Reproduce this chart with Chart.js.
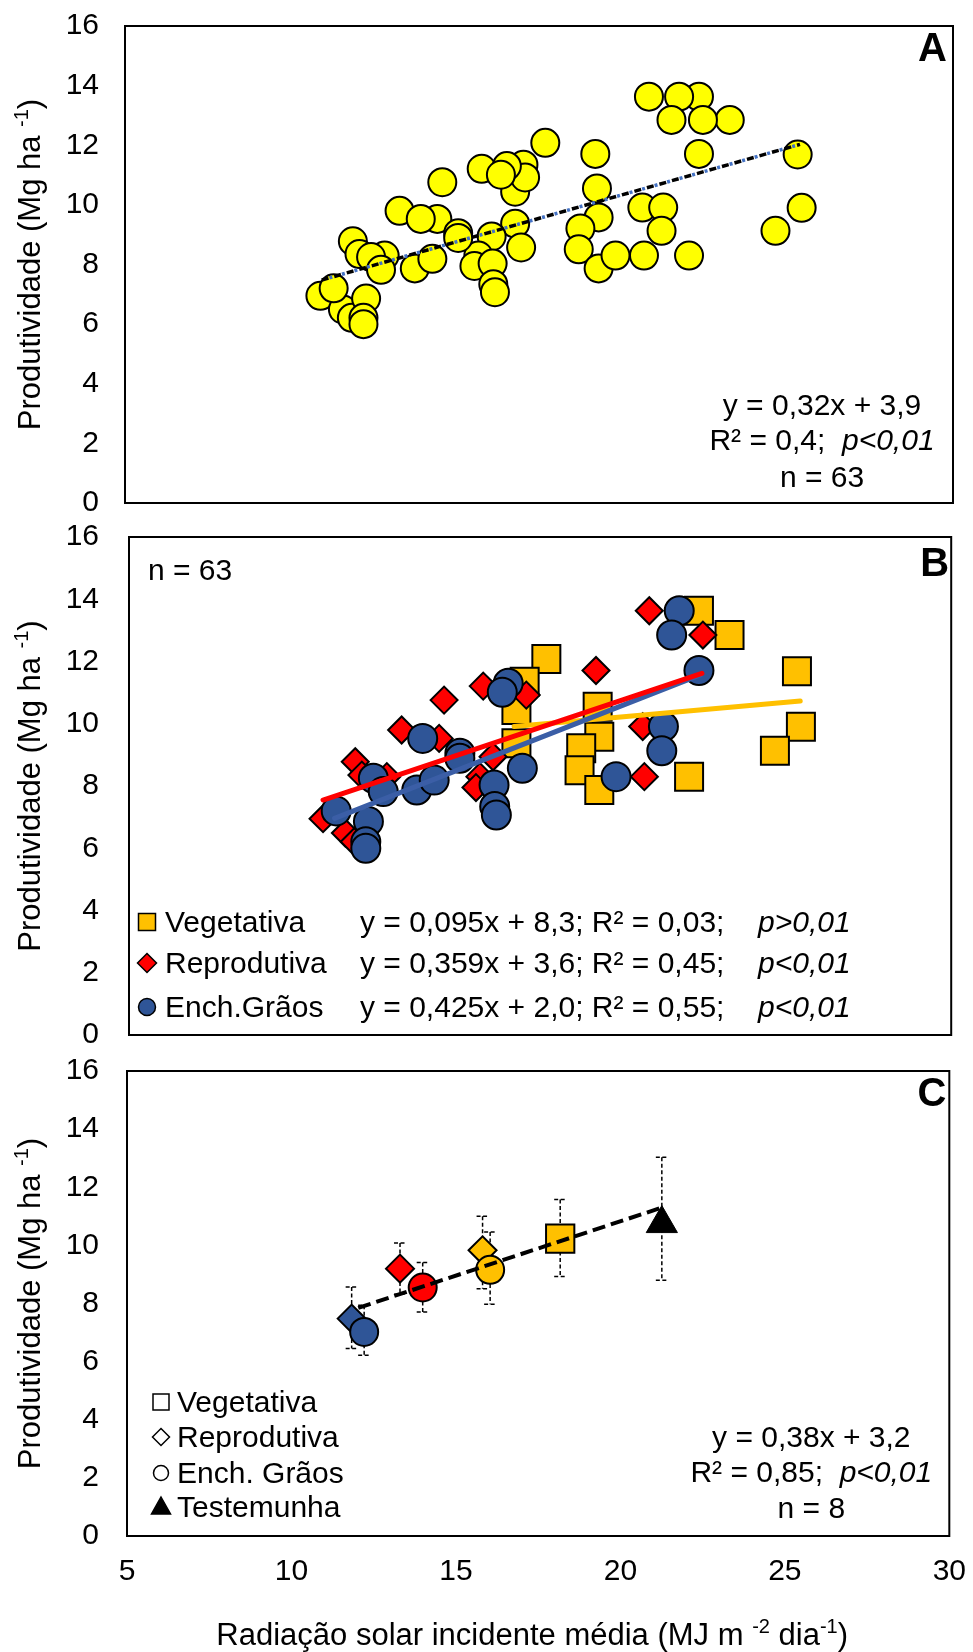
<!DOCTYPE html>
<html>
<head>
<meta charset="utf-8">
<title>Produtividade x Radiação solar</title>
<script src="https://cdn.jsdelivr.net/npm/chart.js@4.4.0/dist/chart.umd.min.js"></script>
<style>
  body { margin: 0; background: #fff; }
  #wrap { position: relative; width: 973px; height: 1652px; overflow: hidden; }
  canvas { position: absolute; left: 0; }
</style>
</head>
<body>
<div id="wrap">
  <!-- canvases overlap a little: the y tick padding also pads the plot top/bottom -->
  <canvas id="chartA" width="973" height="565" style="top:-18px"></canvas>
  <canvas id="chartB" width="973" height="594" style="top:489px"></canvas>
  <canvas id="chartC" width="984" height="627" style="top:1025px"></canvas>
</div>
<script>
/* axis ticks */
const xTicks = [5, 10, 15, 20, 25, 30];
const yTicks = [0, 2, 4, 6, 8, 10, 12, 14, 16];

/* panel B points, by phase (panel A shows them all together) */
const vegX = [22.33, 23.26, 25.31, 25.43, 24.64, 22.03, 19.25, 19.30, 18.75, 18.70, 19.30, 17.69, 17.03, 16.78, 16.78];
const vegY = [13.63, 12.85, 11.69, 9.90, 9.13, 8.30, 10.55, 9.58, 9.21, 8.51, 7.87, 12.08, 11.35, 10.44, 9.37];
const repX = [20.82, 22.45, 19.20, 20.62, 20.67, 14.58, 15.77, 17.08, 13.29, 14.43, 11.88, 12.08, 12.84, 10.90, 11.58, 11.85, 16.07, 15.67, 15.55];
const repY = [13.63, 12.85, 11.71, 9.91, 8.30, 10.76, 11.21, 10.92, 9.80, 9.53, 8.78, 8.35, 8.30, 6.95, 6.49, 6.21, 8.94, 8.30, 7.95];
const enchX = [21.73, 21.50, 22.33, 21.25, 21.20, 19.81, 16.53, 16.35, 13.93, 15.06, 15.06, 12.43, 12.73, 13.75, 14.28, 16.10, 16.12, 16.17, 16.96, 11.30, 12.28, 12.20, 12.20];
const enchY = [13.63, 12.85, 11.71, 9.91, 9.13, 8.30, 11.30, 11.01, 9.53, 9.05, 8.89, 8.25, 7.82, 7.87, 8.19, 8.03, 7.34, 7.07, 8.57, 7.20, 6.86, 6.21, 6.00];

/* trend lines (end points) */
const trendAX = [10.94, 25.38];
const trendAY = [7.48, 12.03];
const trendVegX = [16.71, 25.41];
const trendVegY = [9.91, 10.73];
const trendRepX = [10.90, 22.42];
const trendRepY = [7.55, 11.62];
const trendEnchX = [11.25, 22.37];
const trendEnchY = [6.96, 11.57];

/* panel C means with error bars */
const vegCX = [18.17];
const vegCY = [10.23];
const vegCLo = [8.93];
const vegCHi = [11.58];
const repCX = [11.83, 13.30, 15.81];
const repCY = [7.48, 9.20, 9.83];
const repCLo = [6.45, 8.32, 8.51];
const repCHi = [8.57, 10.08, 11.00];
const enchCX = [12.21, 13.99, 16.04];
const enchCY = [7.02, 8.55, 9.16];
const enchCLo = [6.22, 7.71, 7.97];
const enchCHi = [7.94, 9.41, 10.46];
const testCX = [21.26];
const testCY = [10.75];
const testCLo = [8.80];
const testCHi = [13.03];
const trendCX = [12.03, 21.26];
const trendCY = [7.85, 11.30];

const FONT = "'Liberation Sans', Arial, sans-serif";
const GOLD = '#FFC000';
const RED = '#FF0000';
const BLUE = '#2F5597';

Chart.defaults.font.family = FONT;
Chart.defaults.color = '#000';

const toPoints = (xs, ys) => xs.map((x, i) => ({ x: x, y: ys[i] }));

// text with italic / superscript pieces: [[text, style], ...]
function richText(ctx, segs, x, y, size, align) {
  const fontOf = (s) => (s === 'i' ? 'italic ' : '') + (s === 'sup' ? Math.round(size * 0.65) : size) + 'px ' + FONT;
  let total = 0;
  segs.forEach(([t, s]) => { ctx.font = fontOf(s); total += ctx.measureText(t).width; });
  let cx = x;
  if (align === 'center') cx = x - total / 2;
  if (align === 'right') cx = x - total;
  ctx.textAlign = 'left';
  ctx.textBaseline = 'alphabetic';
  ctx.fillStyle = '#000';
  segs.forEach(([t, s]) => {
    ctx.font = fontOf(s);
    ctx.fillText(t, cx, s === 'sup' ? y - size * 0.38 : y);
    cx += ctx.measureText(t).width;
  });
}

// small legend marker
function marker(ctx, shape, x, y, r, fill) {
  ctx.save();
  ctx.fillStyle = fill;
  ctx.strokeStyle = '#000';
  ctx.lineWidth = 1.5;
  ctx.beginPath();
  if (shape === 'rect') ctx.rect(x - r, y - r, 2 * r, 2 * r);
  if (shape === 'rectRot') { ctx.moveTo(x, y - r); ctx.lineTo(x + r, y); ctx.lineTo(x, y + r); ctx.lineTo(x - r, y); ctx.closePath(); }
  if (shape === 'circle') ctx.arc(x, y, r, 0, Math.PI * 2);
  if (shape === 'triangle') { ctx.moveTo(x, y - r); ctx.lineTo(x + r * 0.95, y + r * 0.7); ctx.lineTo(x - r * 0.95, y + r * 0.7); ctx.closePath(); }
  ctx.fill();
  ctx.stroke();
  ctx.restore();
}

const yTitle = [['Produtividade (Mg ha ', ''], ['-1', 'sup'], [')', '']];
const xTitle = [['Radiação solar incidente média (MJ m ', ''], ['-2', 'sup'], [' dia', ''], ['-1', 'sup'], [')', '']];

// frame, panel letter, y title and the extra texts of each panel
function makeDecor(letter, letterDx, letterDy, extra) {
  return {
    id: 'decor' + letter,
    afterDraw(chart) {
      const ctx = chart.ctx;
      const a = chart.chartArea;
      ctx.save();
      ctx.strokeStyle = '#000';
      ctx.lineWidth = 2;
      ctx.strokeRect(a.left, a.top, a.right - a.left, a.bottom - a.top);
      ctx.font = 'bold 40px ' + FONT;
      ctx.fillStyle = '#000';
      ctx.textAlign = 'right';
      ctx.textBaseline = 'alphabetic';
      ctx.fillText(letter, a.right - letterDx, a.top + letterDy);
      ctx.save();
      ctx.translate(40, (a.top + a.bottom) / 2);
      ctx.rotate(-Math.PI / 2);
      richText(ctx, yTitle, 0, 0, 31, 'center');
      ctx.restore();
      extra(ctx, a, chart);
      ctx.restore();
    }
  };
}

// dashed error bars of panel C, drawn under the markers
const errorBars = {
  id: 'errorBars',
  beforeDatasetsDraw(chart) {
    const ctx = chart.ctx;
    const xs = chart.scales.x;
    const ys = chart.scales.y;
    ctx.save();
    ctx.strokeStyle = '#000';
    ctx.lineWidth = 1.5;
    ctx.setLineDash([4, 2.5]);
    chart.data.datasets.forEach((ds) => {
      if (!ds.errLo) return;
      ds.data.forEach((p, i) => {
        const px = xs.getPixelForValue(p.x);
        const lo = ys.getPixelForValue(ds.errLo[i]);
        const hi = ys.getPixelForValue(ds.errHi[i]);
        ctx.beginPath();
        ctx.moveTo(px, hi); ctx.lineTo(px, lo);
        ctx.moveTo(px - 6, hi); ctx.lineTo(px + 6, hi);
        ctx.moveTo(px - 6, lo); ctx.lineTo(px + 6, lo);
        ctx.stroke();
      });
    });
    ctx.restore();
  }
};

function yScale(width) {
  return {
    min: 0, max: 16,
    afterBuildTicks: (s) => { s.ticks = yTicks.map((v) => ({ value: v })); },
    afterFit: (s) => { s.width = width; },
    ticks: { font: { size: 30 }, padding: width - 99, color: '#000' },
    grid: { display: false, drawTicks: false },
    border: { display: false }
  };
}

function xScale(show) {
  return {
    type: 'linear', min: 5, max: 30, display: show,
    afterBuildTicks: (s) => { s.ticks = xTicks.map((v) => ({ value: v })); },
    afterFit: (s) => { s.height = show ? 116 : 0; },
    ticks: { font: { size: 30 }, padding: 18, color: '#000' },
    grid: { display: false, drawTicks: false },
    border: { display: false }
  };
}

const baseOptions = (padding, yWidth, showX) => ({
  responsive: false,
  animation: false,
  events: [],
  layout: { padding: padding },
  plugins: { legend: { display: false }, tooltip: { enabled: false } },
  scales: { x: xScale(showX), y: yScale(yWidth) }
});

const trendLine = (xs, ys, color, width, dash, order) => ({
  data: toPoints(xs, ys),
  showLine: true,
  borderColor: color,
  borderWidth: width,
  borderDash: dash,
  borderCapStyle: dash.length ? 'butt' : 'round',
  pointRadius: 0,
  fill: false,
  order: order
});

/* ---------- panel A ---------- */
const chartA = new Chart(document.querySelector('#chartA').getContext('2d'), {
  type: 'scatter',
  data: {
    datasets: [
      trendLine(trendAX, trendAY, '#000', 3.5, [7, 6], 1),
      Object.assign(trendLine(trendAX, trendAY, '#4472C4', 3.5, [3, 10], 0), { borderDashOffset: -8 }),
      {
        data: toPoints(vegX.concat(repX, enchX), vegY.concat(repY, enchY)),
        pointStyle: 'circle',
        pointRadius: 14,
        backgroundColor: '#FFFF00',
        borderColor: '#000',
        borderWidth: 2,
        order: 5
      }
    ]
  },
  options: baseOptions({ top: 0, right: 20, bottom: 0, left: 0 }, 125, false),
  plugins: [makeDecor('A', 6, 35, (ctx, a) => {
    const cx = a.right - 131;
    richText(ctx, [['y = 0,32x + 3,9', '']], cx, a.bottom - 88, 30, 'center');
    richText(ctx, [['R² = 0,4;  ', ''], ['p<0,01', 'i']], cx, a.bottom - 53, 30, 'center');
    richText(ctx, [['n = 63', '']], cx, a.bottom - 16, 30, 'center');
  })]
});

/* ---------- panel B ---------- */
const legendB = [
  ['rect', 8.5, GOLD, 'Vegetativa', 'y = 0,095x + 8,3; R² = 0,03;', 'p>0,01'],
  ['rectRot', 9.5, RED, 'Reprodutiva', 'y = 0,359x + 3,6; R² = 0,45;', 'p<0,01'],
  ['circle', 8.5, BLUE, 'Ench.Grãos', 'y = 0,425x + 2,0; R² = 0,55;', 'p<0,01']
];

const chartB = new Chart(document.querySelector('#chartB').getContext('2d'), {
  type: 'scatter',
  data: {
    datasets: [
      trendLine(trendRepX, trendRepY, RED, 5, [], 0),
      trendLine(trendEnchX, trendEnchY, '#3B5EA6', 5, [], 1),
      trendLine(trendVegX, trendVegY, GOLD, 5, [], 2),
      { data: toPoints(enchX, enchY), pointStyle: 'circle', pointRadius: 14.5, backgroundColor: BLUE, borderColor: '#000', borderWidth: 2, order: 3 },
      { data: toPoints(repX, repY), pointStyle: 'rectRot', pointRadius: 13.5, backgroundColor: RED, borderColor: '#000', borderWidth: 2, order: 4 },
      { data: toPoints(vegX, vegY), pointStyle: 'rect', pointRadius: 19.8, backgroundColor: GOLD, borderColor: '#000', borderWidth: 2, order: 5 }
    ]
  },
  options: baseOptions({ top: 0, right: 20, bottom: 0, left: 0 }, 129, false),
  plugins: [makeDecor('B', 2, 39, (ctx, a) => {
    richText(ctx, [['n = 63', '']], a.left + 19, a.top + 43, 30, 'left');
    const bases = [a.bottom - 103, a.bottom - 62, a.bottom - 18];
    legendB.forEach((row, i) => {
      marker(ctx, row[0], a.left + 18, bases[i] - 10, row[1], row[2]);
      richText(ctx, [[row[3], '']], a.left + 36, bases[i], 30, 'left');
      richText(ctx, [[row[4], '']], a.left + 231, bases[i], 30, 'left');
      richText(ctx, [[row[5], 'i']], a.left + 629, bases[i], 30, 'left');
    });
  })]
});

/* ---------- panel C ---------- */
const legendC = [
  ['rect', 8, '#fff', 'Vegetativa'],
  ['rectRot', 8.5, '#fff', 'Reprodutiva'],
  ['circle', 7.5, '#fff', 'Ench. Grãos'],
  ['triangle', 10, '#000', 'Testemunha']
];

const chartC = new Chart(document.querySelector('#chartC').getContext('2d'), {
  type: 'scatter',
  data: {
    datasets: [
      trendLine(trendCX, trendCY, '#000', 4, [13, 6], 0),
      { data: toPoints(testCX, testCY), errLo: testCLo, errHi: testCHi, pointStyle: 'triangle', pointRadius: 18, backgroundColor: '#000', borderColor: '#000', borderWidth: 1, order: 1 },
      { data: toPoints(vegCX, vegCY), errLo: vegCLo, errHi: vegCHi, pointStyle: 'rect', pointRadius: 20, backgroundColor: GOLD, borderColor: '#000', borderWidth: 2, order: 2 },
      { data: toPoints(enchCX, enchCY), errLo: enchCLo, errHi: enchCHi, pointStyle: 'circle', pointRadius: 14, backgroundColor: [BLUE, RED, GOLD], borderColor: '#000', borderWidth: 2, order: 3 },
      { data: toPoints(repCX, repCY), errLo: repCLo, errHi: repCHi, pointStyle: 'rectRot', pointRadius: 14, backgroundColor: [BLUE, RED, GOLD], borderColor: '#000', borderWidth: 2, order: 4 }
    ]
  },
  options: baseOptions({ top: 0, right: 0, bottom: 0, left: 0 }, 127, true),
  plugins: [errorBars, makeDecor('C', 3, 35, (ctx, a, chart) => {
    const cx = a.right - 138;
    richText(ctx, [['y = 0,38x + 3,2', '']], cx, a.bottom - 89, 30, 'center');
    richText(ctx, [['R² = 0,85;  ', ''], ['p<0,01', 'i']], cx, a.bottom - 54, 30, 'center');
    richText(ctx, [['n = 8', '']], cx, a.bottom - 18, 30, 'center');
    const bases = [a.bottom - 124, a.bottom - 89, a.bottom - 53, a.bottom - 19];
    legendC.forEach((row, i) => {
      marker(ctx, row[0], a.left + 34, bases[i] - 10, row[1], row[2]);
      richText(ctx, [[row[3], '']], a.left + 50, bases[i], 30, 'left');
    });
    richText(ctx, xTitle, (a.left + a.right) / 2 - 6, chart.height - 7, 31, 'center');
  })]
});
</script>
</body>
</html>
